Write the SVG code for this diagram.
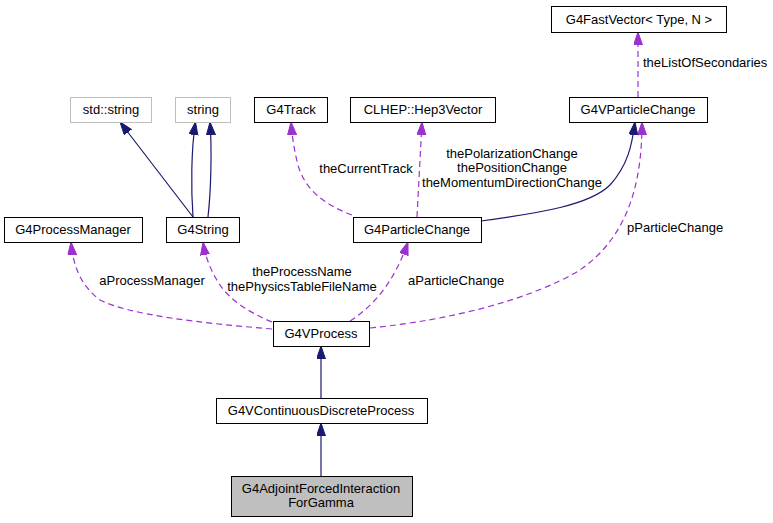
<svg xmlns="http://www.w3.org/2000/svg" width="773" height="523" viewBox="0 0 773 523">
<style>
text{font-family:"Liberation Sans",Arial,sans-serif;font-size:13px;fill:#000}
.c{text-anchor:middle}
.box{fill:#fff;stroke:#000;stroke-width:1}
.gbox{fill:#fff;stroke:#bfbfbf;stroke-width:1}
.inh{fill:none;stroke:#191970;stroke-width:1.2}
.use{fill:none;stroke:#9a32cd;stroke-width:1.2;stroke-dasharray:6,4}
</style>
<defs>
<marker id="an" markerUnits="userSpaceOnUse" markerWidth="14" markerHeight="10" refX="13" refY="4.5" orient="auto"><path d="M0,0 L13,4.5 L0,9 z" fill="#191970" stroke="#191970"/></marker>
<marker id="ap" markerUnits="userSpaceOnUse" markerWidth="14" markerHeight="10" refX="13" refY="4.5" orient="auto"><path d="M0,0 L13,4.5 L0,9 z" fill="#9a32cd" stroke="#9a32cd"/></marker>
</defs>
<rect width="773" height="523" fill="#fff"/>
<g id="connectors">
<path class="inh" d="M193,217 L120,122" marker-end="url(#an)"/>
<path class="inh" d="M193,217 C191,190 191,150 195.5,122" marker-end="url(#an)"/>
<path class="inh" d="M208,217 C211,190 212,150 210,122" marker-end="url(#an)"/>
<path class="inh" d="M481,221 C540,213 590,205 610,185 C628,165 632,145 635,122" marker-end="url(#an)"/>
<path class="inh" d="M321,398 L321,346" marker-end="url(#an)"/>
<path class="inh" d="M321,476 L321,423" marker-end="url(#an)"/>
<path class="use" d="M352,215 C325,205 305,190 298,165 C294,150 292,135 291,122" marker-end="url(#ap)"/>
<path class="use" d="M417,217 L422,122" marker-end="url(#ap)"/>
<path class="use" d="M638,97 L638,32" marker-end="url(#ap)"/>
<path class="use" d="M370,328 C450,320 530,300 580,270 C630,235 642,180 642,122" marker-end="url(#ap)"/>
<path class="use" d="M350,321 C375,305 395,280 408,242" marker-end="url(#ap)"/>
<path class="use" d="M272,329 C200,323 130,315 100,300 C80,285 73,265 71,242" marker-end="url(#ap)"/>
<path class="use" d="M272,322 C250,313 230,300 220,285 C210,270 205,255 203,242" marker-end="url(#ap)"/>
<text class="c" x="366" y="173">theCurrentTrack</text>
<text class="c" x="512" y="158">thePolarizationChange</text>
<text class="c" x="512" y="172">thePositionChange</text>
<text class="c" x="512" y="187">theMomentumDirectionChange</text>
<text x="643" y="67">theListOfSecondaries</text>
<text x="627" y="232">pParticleChange</text>
<text x="408" y="285">aParticleChange</text>
<text class="c" x="152" y="285">aProcessManager</text>
<text class="c" x="302" y="276">theProcessName</text>
<text class="c" x="302" y="291">thePhysicsTableFileName</text>
</g>
<g id="G4FastVector"><rect class="box" x="551.5" y="6.5" width="175" height="26"/><text class="c" x="639" y="24">G4FastVector&lt; Type, N &gt;</text></g>
<g id="std_string"><rect class="gbox" x="70.5" y="97.5" width="81" height="25"/><text class="c" x="111" y="114">std::string</text></g>
<g id="string"><rect class="gbox" x="175.5" y="97.5" width="55" height="25"/><text class="c" x="203" y="114">string</text></g>
<g id="G4Track"><rect class="box" x="254.5" y="97.5" width="73" height="25"/><text class="c" x="291" y="114">G4Track</text></g>
<g id="CLHEP_Hep3Vector"><rect class="box" x="350.5" y="97.5" width="145" height="25"/><text class="c" x="423" y="114">CLHEP::Hep3Vector</text></g>
<g id="G4VParticleChange"><rect class="box" x="569.5" y="97.5" width="138" height="25"/><text class="c" x="638" y="114">G4VParticleChange</text></g>
<g id="G4ProcessManager"><rect class="box" x="4.5" y="217.5" width="138" height="25"/><text class="c" x="73" y="234">G4ProcessManager</text></g>
<g id="G4String"><rect class="box" x="166.5" y="217.5" width="73" height="25"/><text class="c" x="203" y="234">G4String</text></g>
<g id="G4ParticleChange"><rect class="box" x="353.5" y="217.5" width="128" height="25"/><text class="c" x="417" y="234">G4ParticleChange</text></g>
<g id="G4VProcess"><rect class="box" x="273.5" y="321.5" width="96" height="25"/><text class="c" x="321" y="338">G4VProcess</text></g>
<g id="G4VContinuousDiscreteProcess"><rect class="box" x="216.5" y="398.5" width="211" height="25"/><text class="c" x="321" y="415">G4VContinuousDiscreteProcess</text></g>
<g id="G4AdjointForcedInteractionForGamma"><rect x="231.5" y="476.5" width="181" height="40" fill="#bfbfbf" stroke="#000"/><text class="c" x="321" y="493">G4AdjointForcedInteraction</text><text class="c" x="321" y="507">ForGamma</text></g>
</svg>
